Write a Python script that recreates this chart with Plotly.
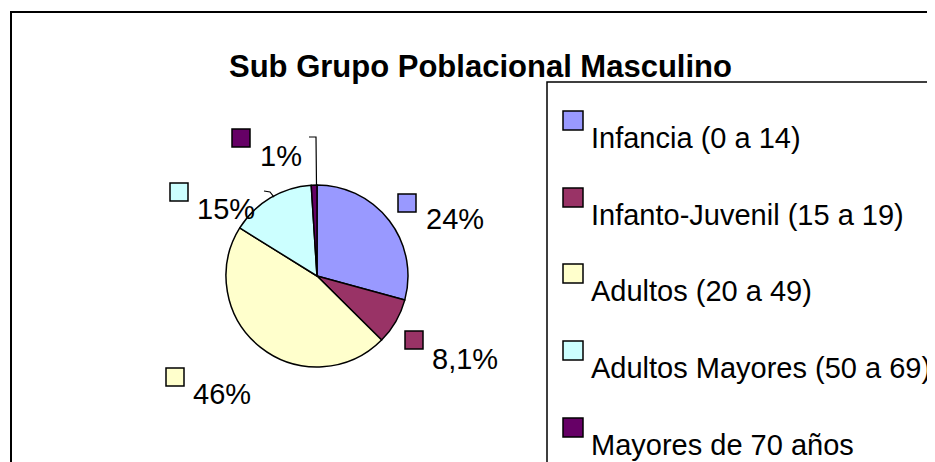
import plotly.graph_objects as go

# ---- data ----
categories = ["Infancia (0 a 14)", "Infanto-Juvenil (15 a 19)", "Adultos (20 a 49)",
              "Adultos Mayores (50 a 69)", "Mayores de 70 años"]
values = [29, 8.1, 46, 15, 1]
value_labels = ["24%", "8,1%", "46%", "15%", "1%"]
colors = ["#9999FF", "#993366", "#FFFFCC", "#CCFFFF", "#660066"]
title_text = "Sub Grupo Poblacional Masculino"

# the page body adds an 8px margin; figure is sized to fit the window
OFF = 8
W, H = 935 - OFF, 462 - OFF
FONT = "Liberation Sans, Arial, sans-serif"


def px(x):
    return (x - OFF) / W


def py(y):
    return 1 - (y - OFF) / H


# pie placement (window pixels)
cx, cy, r = 317, 276, 91

fig = go.Figure()
fig.add_trace(go.Pie(
    labels=categories, values=values, sort=False, direction="clockwise",
    rotation=0, textinfo="none", showlegend=False,
    marker=dict(colors=colors, line=dict(color="black", width=1.5)),
    domain=dict(x=[px(cx - r), px(cx + r)], y=[py(cy + r), py(cy - r)]),
))

shapes = []
annotations = []

# outer chart border
shapes.append(dict(type="rect", xref="paper", yref="paper",
                   x0=px(11), x1=px(980), y0=py(500), y1=py(12),
                   line=dict(color="black", width=2), fillcolor="rgba(0,0,0,0)"))
# legend box
shapes.append(dict(type="rect", xref="paper", yref="paper",
                   x0=px(547), x1=px(980), y0=py(500), y1=py(82),
                   line=dict(color="black", width=1.5), fillcolor="rgba(0,0,0,0)"))

# title
annotations.append(dict(text="<b>%s</b>" % title_text, xref="paper", yref="paper",
                        x=px(480), y=py(66), xanchor="center", yanchor="middle",
                        showarrow=False, font=dict(family=FONT, size=31, color="black")))

# legend entries
leg_sq_top = [111, 188, 264, 341, 418]
for i, name in enumerate(categories):
    t = leg_sq_top[i]
    shapes.append(dict(type="rect", xref="paper", yref="paper",
                       x0=px(563), x1=px(583), y0=py(t + 19), y1=py(t),
                       line=dict(color="black", width=1.5), fillcolor=colors[i]))
    annotations.append(dict(text=name, xref="paper", yref="paper",
                            x=px(589), y=py(t + 27), xanchor="left", yanchor="middle",
                            showarrow=False,
                            font=dict(family=FONT, size=29, color="black")))

# data labels with legend keys (square top-left, text center)
lab_sq = [(398, 194), (405, 331), (166, 368), (170, 183), (232, 129)]
lab_txt = [(455, 219), (465, 359), (222, 394), (226, 209), (281, 156)]
for i, lab in enumerate(value_labels):
    sx, sy = lab_sq[i]
    shapes.append(dict(type="rect", xref="paper", yref="paper",
                       x0=px(sx), x1=px(sx + 18), y0=py(sy + 18), y1=py(sy),
                       line=dict(color="black", width=1.5), fillcolor=colors[i]))
    tx, ty = lab_txt[i]
    annotations.append(dict(text=lab, xref="paper", yref="paper",
                            x=px(tx), y=py(ty), xanchor="center", yanchor="middle",
                            showarrow=False,
                            font=dict(family=FONT, size=29, color="black")))

# leader lines
shapes.append(dict(type="path", xref="paper", yref="paper",
                   path="M %f,%f L %f,%f L %f,%f" % (px(309), py(137), px(316), py(137),
                                                     px(316.5), py(186)),
                   line=dict(color="black", width=1.2)))
shapes.append(dict(type="path", xref="paper", yref="paper",
                   path="M %f,%f L %f,%f L %f,%f" % (px(264), py(191), px(270), py(192),
                                                     px(274), py(197)),
                   line=dict(color="black", width=1.2)))

fig.update_layout(width=W, height=H, autosize=False,
                  margin=dict(l=0, r=0, t=0, b=0),
                  paper_bgcolor="white", plot_bgcolor="white",
                  shapes=shapes, annotations=annotations)

fig.write_html("out.html")
